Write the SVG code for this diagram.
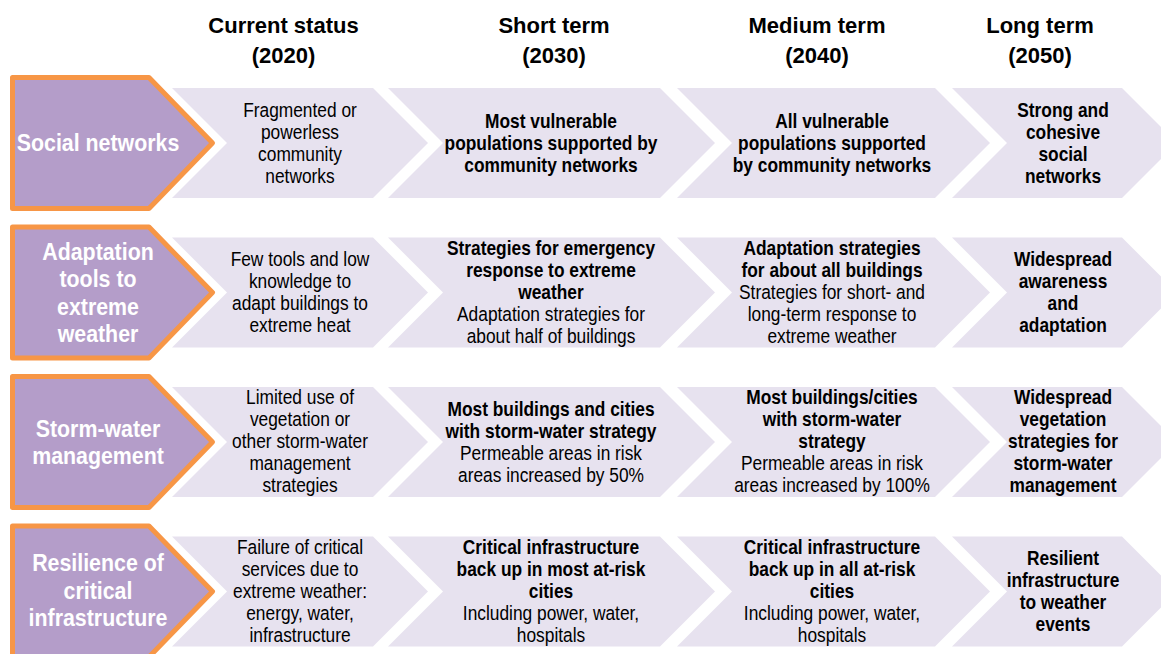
<svg xmlns="http://www.w3.org/2000/svg" width="1161" height="654" viewBox="0 0 1161 654">
<style>
.hdr{fill:#B49DC9;stroke:#F79646;stroke-width:5;stroke-linejoin:round}
.chev{fill:#E7E2EF}
.col{font-family:"Liberation Sans",Arial,sans-serif;font-weight:bold;font-size:22px;fill:#000;text-anchor:middle}
.ht{font-family:"Liberation Sans",Arial,sans-serif;font-weight:bold;font-size:24px;fill:#fff;text-anchor:middle}
.t{font-family:"Liberation Sans",Arial,sans-serif;font-size:19.5px;fill:#000;text-anchor:middle}
.b{font-weight:bold}
</style>
<rect width="1161" height="654" fill="#fff"/>
<g id="column-headers">
<text class="col" x="283.5" y="33">Current status</text>
<text class="col" x="283.5" y="63">(2020)</text>
<text class="col" x="554" y="33">Short term</text>
<text class="col" x="554" y="63">(2030)</text>
<text class="col" x="817" y="33">Medium term</text>
<text class="col" x="817" y="63">(2040)</text>
<text class="col" x="1040" y="33">Long term</text>
<text class="col" x="1040" y="63">(2050)</text>
</g>
<g id="connectors"/>

<!-- Row 1 -->
<g id="row1-header">
<path class="hdr" d="M12.5,77.5 H149 L212.5,143 L149,208.5 H12.5 Z"/>
<g transform="translate(98,0) scale(0.89,1)"><text class="ht" x="0" y="151.4">Social networks</text></g>
</g>
<g id="row1-current">
<polygon class="chev" points="172,88 373,88 428,143 373,198 172,198 227,143"/>
<g transform="translate(300,0) scale(0.89,1)"><text class="t"><tspan x="0" y="116.8">Fragmented or</tspan><tspan x="0" y="138.8">powerless</tspan><tspan x="0" y="160.8">community</tspan><tspan x="0" y="182.8">networks</tspan></text></g>
</g>
<g id="row1-short">
<polygon class="chev" points="388,88 660,88 715,143 660,198 388,198 443,143"/>
<g transform="translate(551,0) scale(0.89,1)"><text class="t b"><tspan x="0" y="127.8">Most vulnerable</tspan><tspan x="0" y="149.8">populations supported by</tspan><tspan x="0" y="171.8">community networks</tspan></text></g>
</g>
<g id="row1-medium">
<polygon class="chev" points="677,88 935,88 990,143 935,198 677,198 732,143"/>
<g transform="translate(832,0) scale(0.89,1)"><text class="t b"><tspan x="0" y="127.8">All vulnerable</tspan><tspan x="0" y="149.8">populations supported</tspan><tspan x="0" y="171.8">by community networks</tspan></text></g>
</g>
<g id="row1-long">
<polygon class="chev" points="952,88 1122,88 1177,143 1122,198 952,198 1007,143"/>
<g transform="translate(1063,0) scale(0.89,1)"><text class="t b"><tspan x="0" y="116.8">Strong and</tspan><tspan x="0" y="138.8">cohesive</tspan><tspan x="0" y="160.8">social</tspan><tspan x="0" y="182.8">networks</tspan></text></g>
</g>

<!-- Row 2 -->
<g id="row2-header">
<path class="hdr" d="M12.5,227 H149 L212.5,292.5 L149,358 H12.5 Z"/>
<g transform="translate(98,0) scale(0.89,1)"><text class="ht"><tspan x="0" y="259.6">Adaptation</tspan><tspan x="0" y="287.1">tools to</tspan><tspan x="0" y="314.6">extreme</tspan><tspan x="0" y="342.1">weather</tspan></text></g>
</g>
<g id="row2-current">
<polygon class="chev" points="172,237.5 373,237.5 428,292.5 373,347.5 172,347.5 227,292.5"/>
<g transform="translate(300,0) scale(0.89,1)"><text class="t"><tspan x="0" y="266.3">Few tools and low</tspan><tspan x="0" y="288.3">knowledge to</tspan><tspan x="0" y="310.3">adapt buildings to</tspan><tspan x="0" y="332.3">extreme heat</tspan></text></g>
</g>
<g id="row2-short">
<polygon class="chev" points="388,237.5 660,237.5 715,292.5 660,347.5 388,347.5 443,292.5"/>
<g transform="translate(551,0) scale(0.89,1)"><text class="t"><tspan class="b" x="0" y="254.8">Strategies for emergency</tspan><tspan class="b" x="0" y="276.8">response to extreme</tspan><tspan class="b" x="0" y="298.8">weather</tspan><tspan x="0" y="320.8">Adaptation strategies for</tspan><tspan x="0" y="342.8">about half of buildings</tspan></text></g>
</g>
<g id="row2-medium">
<polygon class="chev" points="677,237.5 935,237.5 990,292.5 935,347.5 677,347.5 732,292.5"/>
<g transform="translate(832,0) scale(0.89,1)"><text class="t"><tspan class="b" x="0" y="254.8">Adaptation strategies</tspan><tspan class="b" x="0" y="276.8">for about all buildings</tspan><tspan x="0" y="298.8">Strategies for short- and</tspan><tspan x="0" y="320.8">long-term response to</tspan><tspan x="0" y="342.8">extreme weather</tspan></text></g>
</g>
<g id="row2-long">
<polygon class="chev" points="952,237.5 1122,237.5 1177,292.5 1122,347.5 952,347.5 1007,292.5"/>
<g transform="translate(1063,0) scale(0.89,1)"><text class="t b"><tspan x="0" y="266.3">Widespread</tspan><tspan x="0" y="288.3">awareness</tspan><tspan x="0" y="310.3">and</tspan><tspan x="0" y="332.3">adaptation</tspan></text></g>
</g>

<!-- Row 3 -->
<g id="row3-header">
<path class="hdr" d="M12.5,376.5 H149 L212.5,442 L149,507.5 H12.5 Z"/>
<g transform="translate(98,0) scale(0.89,1)"><text class="ht"><tspan x="0" y="436.6">Storm-water</tspan><tspan x="0" y="464.1">management</tspan></text></g>
</g>
<g id="row3-current">
<polygon class="chev" points="172,387 373,387 428,442 373,497 172,497 227,442"/>
<g transform="translate(300,0) scale(0.89,1)"><text class="t"><tspan x="0" y="404.3">Limited use of</tspan><tspan x="0" y="426.3">vegetation or</tspan><tspan x="0" y="448.3">other storm-water</tspan><tspan x="0" y="470.3">management</tspan><tspan x="0" y="492.3">strategies</tspan></text></g>
</g>
<g id="row3-short">
<polygon class="chev" points="388,387 660,387 715,442 660,497 388,497 443,442"/>
<g transform="translate(551,0) scale(0.89,1)"><text class="t"><tspan class="b" x="0" y="415.8">Most buildings and cities</tspan><tspan class="b" x="0" y="437.8">with storm-water strategy</tspan><tspan x="0" y="459.8">Permeable areas in risk</tspan><tspan x="0" y="481.8">areas increased by 50%</tspan></text></g>
</g>
<g id="row3-medium">
<polygon class="chev" points="677,387 935,387 990,442 935,497 677,497 732,442"/>
<g transform="translate(832,0) scale(0.89,1)"><text class="t"><tspan class="b" x="0" y="404.3">Most buildings/cities</tspan><tspan class="b" x="0" y="426.3">with storm-water</tspan><tspan class="b" x="0" y="448.3">strategy</tspan><tspan x="0" y="470.3">Permeable areas in risk</tspan><tspan x="0" y="492.3">areas increased by 100%</tspan></text></g>
</g>
<g id="row3-long">
<polygon class="chev" points="952,387 1122,387 1177,442 1122,497 952,497 1007,442"/>
<g transform="translate(1063,0) scale(0.89,1)"><text class="t b"><tspan x="0" y="404.3">Widespread</tspan><tspan x="0" y="426.3">vegetation</tspan><tspan x="0" y="448.3">strategies for</tspan><tspan x="0" y="470.3">storm-water</tspan><tspan x="0" y="492.3">management</tspan></text></g>
</g>

<!-- Row 4 -->
<g id="row4-header">
<path class="hdr" d="M12.5,526 H149 L212.5,591.5 L149,657 H12.5 Z"/>
<g transform="translate(98,0) scale(0.89,1)"><text class="ht"><tspan x="0" y="571.4">Resilience of</tspan><tspan x="0" y="598.9">critical</tspan><tspan x="0" y="626.4">infrastructure</tspan></text></g>
</g>
<g id="row4-current">
<polygon class="chev" points="172,536.5 373,536.5 428,591.5 373,646.5 172,646.5 227,591.5"/>
<g transform="translate(300,0) scale(0.89,1)"><text class="t"><tspan x="0" y="553.8">Failure of critical</tspan><tspan x="0" y="575.8">services due to</tspan><tspan x="0" y="597.8">extreme weather:</tspan><tspan x="0" y="619.8">energy, water,</tspan><tspan x="0" y="641.8">infrastructure</tspan></text></g>
</g>
<g id="row4-short">
<polygon class="chev" points="388,536.5 660,536.5 715,591.5 660,646.5 388,646.5 443,591.5"/>
<g transform="translate(551,0) scale(0.89,1)"><text class="t"><tspan class="b" x="0" y="553.8">Critical infrastructure</tspan><tspan class="b" x="0" y="575.8">back up in most at-risk</tspan><tspan class="b" x="0" y="597.8">cities</tspan><tspan x="0" y="619.8">Including power, water,</tspan><tspan x="0" y="641.8">hospitals</tspan></text></g>
</g>
<g id="row4-medium">
<polygon class="chev" points="677,536.5 935,536.5 990,591.5 935,646.5 677,646.5 732,591.5"/>
<g transform="translate(832,0) scale(0.89,1)"><text class="t"><tspan class="b" x="0" y="553.8">Critical infrastructure</tspan><tspan class="b" x="0" y="575.8">back up in all at-risk</tspan><tspan class="b" x="0" y="597.8">cities</tspan><tspan x="0" y="619.8">Including power, water,</tspan><tspan x="0" y="641.8">hospitals</tspan></text></g>
</g>
<g id="row4-long">
<polygon class="chev" points="952,536.5 1122,536.5 1177,591.5 1122,646.5 952,646.5 1007,591.5"/>
<g transform="translate(1063,0) scale(0.89,1)"><text class="t b"><tspan x="0" y="565.3">Resilient</tspan><tspan x="0" y="587.3">infrastructure</tspan><tspan x="0" y="609.3">to weather</tspan><tspan x="0" y="631.3">events</tspan></text></g>
</g>
</svg>
